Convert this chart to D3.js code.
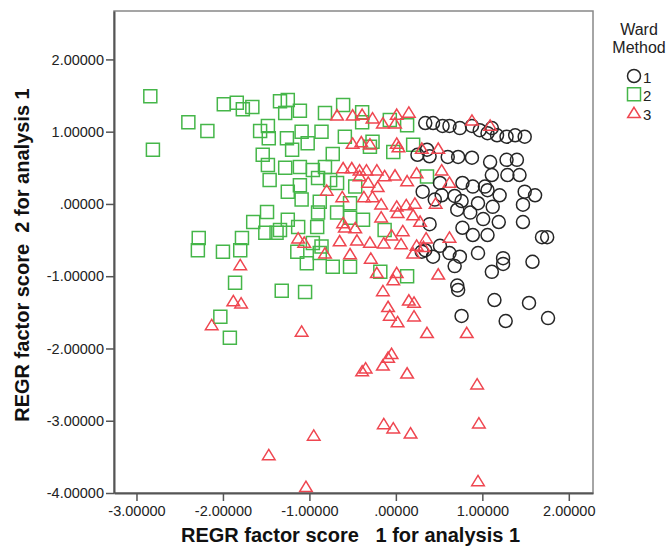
<!DOCTYPE html>
<html>
<head>
<meta charset="utf-8">
<script src="https://cdn.jsdelivr.net/npm/d3@7"></script>
<style>
  body { margin: 0; background: #fff; }
  text { font-family: "Liberation Sans", Arial, sans-serif; }
</style>
</head>
<body>
<svg id="chart"></svg>
<script>
// Ward Method cluster membership, factor scores [score 1, score 2]
const ward1 = [
  [0.34,1.12],[0.43,1.12],[0.54,1.08],[0.62,1.08],[0.74,1.05],[0.88,1.08],[0.97,1.02],[1.06,0.98],[1.11,1.05],[1.17,0.95],[1.28,0.93],[1.38,0.95],[1.49,0.93],
  [0.36,0.75],[0.25,0.68],[0.39,0.66],[0.60,0.65],[0.72,0.65],[0.88,0.64],[1.09,0.58],[1.28,0.61],[1.40,0.61],
  [1.11,0.40],[1.29,0.40],[1.43,0.40],[0.51,0.29],[0.77,0.29],[1.03,0.24],[0.89,0.24],
  [0.31,0.17],[0.53,0.12],[0.68,0.11],[0.76,0.04],[0.45,0.06],[0.95,0.01],[1.06,0.19],[1.20,0.12],[1.49,0.17],[1.61,0.12],
  [1.12,-0.04],[1.47,-0.01],[0.71,-0.08],[0.86,-0.12],[1.01,-0.21],[1.19,-0.25],[1.47,-0.25],[0.39,-0.28],[0.77,-0.33],[0.89,-0.43],[1.06,-0.43],[1.69,-0.46],[1.75,-0.46],
  [0.51,-0.58],[0.62,-0.68],[0.34,-0.64],[0.43,-0.73],[0.74,-0.73],[0.95,-0.68],[1.24,-0.75],[1.58,-0.80],[0.68,-0.86],[1.11,-0.94],[1.24,-0.83],[0.30,-0.66],
  [0.71,-1.13],[0.72,-1.19],[1.14,-1.33],[1.54,-1.37],[0.76,-1.55],[1.27,-1.62],[1.76,-1.58]
];

const ward2 = [
  [-2.84,1.49],[-2.81,0.75],[-2.40,1.13],[-2.18,1.01],[-1.99,1.38],[-1.84,1.40],[-1.77,1.31],[-1.66,1.34],[-1.57,1.01],[-1.48,1.08],
  [-1.34,1.42],[-1.25,1.44],[-1.28,1.26],[-1.11,1.29],[-1.26,0.91],[-1.09,1.00],[-1.02,0.84],[-0.86,1.00],[-0.82,1.26],[-0.61,1.37],
  [-0.59,0.93],[-0.73,0.69],[-1.20,0.75],[-1.54,0.68],[-1.48,0.54],[-1.28,0.50],[-0.96,0.47],[-1.11,0.51],[-0.82,0.51],[-0.39,1.27],[-0.39,1.13],
  [-1.46,0.33],[-1.11,0.26],[-1.25,0.17],[-1.09,0.06],[-0.88,0.03],[-0.90,-0.12],[-0.91,-0.32],[-1.49,-0.11],[-1.65,-0.25],[-1.25,-0.22],
  [-1.51,-0.40],[-1.38,-0.40],[-1.78,-0.47],[-1.80,-0.64],[-2.00,-0.66],[-2.28,-0.47],[-2.29,-0.64],[-1.14,-0.66],[-0.68,-0.12],[-0.76,0.33],
  [-0.90,0.36],[-0.53,0.01],[-0.38,-0.22],[-0.68,0.29],[-0.47,0.24],[-0.53,-0.19],[-1.13,-0.32],[-1.34,-0.36],[-0.86,-0.59],[-1.03,-0.82],
  [-0.73,-0.87],[-0.53,-0.87],[-0.88,-0.68],[-1.86,-1.09],[-1.32,-1.20],[-1.05,-1.22],[-2.03,-1.56],[-1.92,-1.85],[-0.30,0.79],[-0.27,0.86],
  [-0.07,1.16],[0.13,1.09],[-0.03,0.72],[0.20,0.82],[0.36,0.38],[-0.13,-0.36],[-0.18,-0.94],[0.13,-1.00],[-0.96,-0.54],[-1.47,0.91]
];

const ward3 = [
  [-0.68,1.23],[-0.50,1.23],[-0.39,1.24],[-0.27,1.19],[-0.15,1.12],[0.01,1.24],[0.15,1.27],[-0.01,1.12],[0.88,1.16],[1.09,1.09],
  [-0.50,0.84],[-0.40,0.86],[-0.30,0.83],[0.01,0.84],[0.03,0.79],[0.30,0.77],[0.49,0.77],
  [-0.61,0.50],[-0.51,0.50],[-0.42,0.47],[-0.34,0.47],[-0.22,0.47],[-0.42,0.39],[-0.13,0.39],[-0.01,0.40],[0.13,0.32],[0.24,0.43],[0.53,0.47],[0.62,0.30],[-0.21,0.24],[-0.32,0.30],
  [-0.80,0.19],[-0.62,0.10],[-0.37,0.10],[-0.27,0.10],[-0.17,0.00],[0.01,-0.03],[0.12,-0.01],[0.22,0.01],[0.46,0.01],
  [-0.17,-0.18],[0.02,-0.12],[0.20,-0.15],[0.28,-0.24],[-0.59,-0.32],[-0.47,-0.33],[-0.61,-0.26],
  [-0.65,-0.51],[-0.45,-0.50],[-0.30,-0.53],[-0.14,-0.54],[-0.05,-0.43],[0.08,-0.37],[0.06,-0.55],[0.24,-0.57],[0.35,-0.47],[0.62,-0.46],
  [-1.13,-0.47],[-1.06,-0.53],[-0.82,-0.68],[-0.53,-0.69],[-0.29,-0.75],[0.20,-0.68],[0.32,-0.59],
  [-0.22,-0.95],[-0.03,-1.05],[0.01,-0.95],[0.49,-0.97],[-0.15,-1.20],[-0.09,-1.42],[-0.07,-1.54],[0.02,-1.63],[0.15,-1.33],[0.21,-1.36],[0.21,-1.55],[0.36,-1.78],[0.82,-1.78],
  [-0.05,-2.07],[-0.09,-2.12],[-0.15,-2.23],[-0.39,-2.31],[-0.35,-2.27],[0.13,-2.34],[0.94,-2.49],
  [-0.14,-3.04],[-0.03,-3.10],[0.17,-3.17],[0.96,-3.03],[0.95,-3.83],[-0.95,-3.20],[-1.47,-3.47],[-1.04,-3.91],
  [-1.80,-0.84],[-1.88,-1.34],[-1.79,-1.37],[-2.13,-1.67],[-1.09,-1.76]
];

const xTicks = [-3, -2, -1, 0, 1, 2];
const xTickLabels = ['-3.00000', '-2.00000', '-1.00000', '.00000', '1.00000', '2.00000'];
const yTicks = [2, 1, 0, -1, -2, -3, -4];
const yTickLabels = ['2.00000', '1.00000', '.00000', '-1.00000', '-2.00000', '-3.00000', '-4.00000'];
const groups = ['1', '2', '3'];

// Setup
const width = 670, height = 554;
const plotLeft = 114, plotRight = 593, plotTop = 11, plotBottom = 493;

const svg = d3.select('#chart')
  .attr('width', width)
  .attr('height', height);

const x = d3.scaleLinear().domain([-3.26, 2.28]).range([plotLeft, plotRight]);
const y = d3.scaleLinear().domain([-4, 2.67]).range([plotBottom, plotTop]);

const colors = { 1: '#262626', 2: '#45b649', 3: '#ef4650' };

// plot frame
svg.append('rect')
  .attr('x', plotLeft).attr('y', plotTop)
  .attr('width', plotRight - plotLeft).attr('height', plotBottom - plotTop)
  .attr('fill', 'none')
  .attr('stroke', '#888')
  .attr('stroke-width', 1.5);

// markers
const square = d3.symbol().type(d3.symbolSquare).size(13 * 13);
const circle = d3.symbol().type(d3.symbolCircle).size(Math.PI * 6.5 * 6.5);
const triangle = () => {
  const p = d3.path();
  p.moveTo(0, -5.3); p.lineTo(6.3, 5); p.lineTo(-6.3, 5); p.closePath();
  return p.toString();
};

const pts = svg.append('g').attr('fill', 'none').attr('stroke-width', 1.5);

pts.selectAll('.sq')
  .data(ward2)
  .enter().append('path')
  .attr('d', square)
  .attr('transform', d => `translate(${x(d[0])},${y(d[1])})`)
  .attr('stroke', colors[2]);

pts.selectAll('.ci')
  .data(ward1)
  .enter().append('path')
  .attr('d', circle)
  .attr('transform', d => `translate(${x(d[0])},${y(d[1])})`)
  .attr('stroke', colors[1]);

pts.selectAll('.tr')
  .data(ward3)
  .enter().append('path')
  .attr('d', triangle)
  .attr('transform', d => `translate(${x(d[0])},${y(d[1])})`)
  .attr('stroke', colors[3]);

// axes
const xAxis = svg.append('g')
  .attr('transform', `translate(0,${plotBottom})`)
  .call(d3.axisBottom(x).tickValues(xTicks).tickFormat((d, i) => xTickLabels[i]).tickSize(8).tickSizeOuter(0).tickPadding(5));

const yAxis = svg.append('g')
  .attr('transform', `translate(${plotLeft},0)`)
  .call(d3.axisLeft(y).tickValues(yTicks).tickFormat((d, i) => yTickLabels[i]).tickSize(8).tickSizeOuter(0).tickPadding(2));

[xAxis, yAxis].forEach(a => {
  a.select('.domain').attr('stroke', '#555').attr('stroke-width', 2);
  a.selectAll('.tick line').attr('stroke', '#555').attr('stroke-width', 1.5);
  a.selectAll('.tick text')
    .attr('fill', '#222')
    .style('font-size', '14.5px')
    .style('font-family', '"Liberation Sans", Arial, sans-serif');
});

// axis titles
svg.append('text')
  .attr('x', (plotLeft + plotRight) / 2 - 3)
  .attr('y', 542)
  .attr('text-anchor', 'middle')
  .style('font-size', '20px')
  .style('font-weight', 'bold')
  .attr('fill', '#111')
  .attr('xml:space', 'preserve')
  .text('REGR factor score   1 for analysis 1');

svg.append('text')
  .attr('transform', `translate(29,${(plotTop + plotBottom) / 2 + 3}) rotate(-90)`)
  .attr('text-anchor', 'middle')
  .style('font-size', '20px')
  .style('font-weight', 'bold')
  .attr('fill', '#111')
  .attr('xml:space', 'preserve')
  .text('REGR factor score  2 for analysis 1');

// legend
const legend = svg.append('g');
legend.append('text')
  .attr('x', 639).attr('y', 35)
  .attr('text-anchor', 'middle')
  .style('font-size', '16px')
  .attr('fill', '#222')
  .text('Ward');
legend.append('text')
  .attr('x', 639).attr('y', 53)
  .attr('text-anchor', 'middle')
  .style('font-size', '16px')
  .attr('fill', '#222')
  .text('Method');

const symbols = [circle, square, triangle];
groups.forEach((g, i) => {
  const cy = 76 + i * 18.3;
  legend.append('path')
    .attr('d', symbols[i])
    .attr('transform', `translate(634,${cy})`)
    .attr('fill', 'none')
    .attr('stroke', colors[g])
    .attr('stroke-width', 1.5);
  legend.append('text')
    .attr('x', 643).attr('y', cy + 7)
    .style('font-size', '15px')
    .attr('fill', '#222')
    .text(g);
});
</script>
</body>
</html>
